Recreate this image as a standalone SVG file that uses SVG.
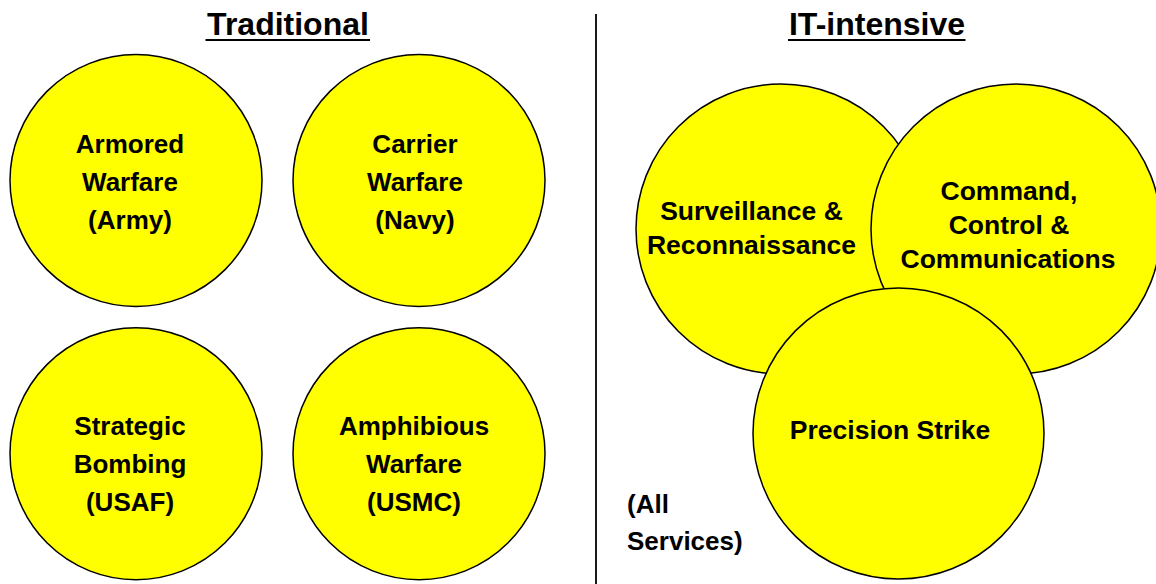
<svg xmlns="http://www.w3.org/2000/svg" width="1156" height="584" viewBox="0 0 1156 584">
  <style>
    .node { fill: #ffff00; stroke: #000000; stroke-width: 1.5; }
    .label { font-family: "Liberation Sans", Arial, sans-serif; font-weight: bold; font-size: 26px; fill: #000000; text-anchor: middle; }
    .label.wide { font-size: 26.5px; }
    .title { font-family: "Liberation Sans", Arial, sans-serif; font-weight: bold; font-size: 32px; fill: #000000; text-anchor: middle; }
    .rule { stroke: #000000; stroke-width: 2.2; }
    .note { font-family: "Liberation Sans", Arial, sans-serif; font-weight: bold; font-size: 26px; fill: #000000; }
  </style>
  <rect width="1156" height="584" fill="#ffffff"/>

  <!-- section headings with underlines -->
  <text class="title" x="288" y="35">Traditional</text>
  <line class="rule" x1="205.5" y1="40" x2="370" y2="40"/>
  <text class="title" x="877" y="35">IT-intensive</text>
  <line class="rule" x1="788" y1="40" x2="965.5" y2="40"/>

  <!-- divider between the two sections -->
  <g id="connectors">
    <line x1="596" y1="14" x2="596" y2="584" stroke="#000000" stroke-width="1.8"/>
  </g>

  <!-- traditional warfare areas -->
  <g id="armored">
    <circle class="node" cx="136" cy="180.5" r="126"/>
    <text class="label" x="130" y="153">Armored</text>
    <text class="label" x="130" y="191">Warfare</text>
    <text class="label" x="130" y="229">(Army)</text>
  </g>
  <g id="carrier">
    <circle class="node" cx="419" cy="180.5" r="126"/>
    <text class="label" x="415" y="153">Carrier</text>
    <text class="label" x="415" y="191">Warfare</text>
    <text class="label" x="415" y="229">(Navy)</text>
  </g>
  <g id="strategic">
    <circle class="node" cx="136" cy="453.7" r="126"/>
    <text class="label" x="130" y="435">Strategic</text>
    <text class="label" x="130" y="473">Bombing</text>
    <text class="label" x="130" y="511">(USAF)</text>
  </g>
  <g id="amphibious">
    <circle class="node" cx="419" cy="453.7" r="126"/>
    <text class="label" x="414" y="435">Amphibious</text>
    <text class="label" x="414" y="473">Warfare</text>
    <text class="label" x="414" y="511">(USMC)</text>
  </g>

  <!-- IT-intensive areas, overlapping -->
  <g id="surveillance">
    <circle class="node" cx="781" cy="229" r="145"/>
    <text class="label wide" x="751.5" y="220">Surveillance &amp;</text>
    <text class="label wide" x="751.5" y="254">Reconnaissance</text>
  </g>
  <g id="command">
    <circle class="node" cx="1016" cy="229" r="145"/>
    <text class="label wide" x="1009" y="200">Command,</text>
    <text class="label wide" x="1009" y="234">Control &amp;</text>
    <text class="label wide" x="1008" y="268">Communications</text>
  </g>
  <g id="precision">
    <circle class="node" cx="898.5" cy="433.5" r="145.5"/>
    <text class="label wide" x="890" y="439">Precision Strike</text>
  </g>

  <g id="all-services">
    <text class="note" x="627" y="513">(All</text>
    <text class="note" x="627" y="550">Services)</text>
  </g>
</svg>
